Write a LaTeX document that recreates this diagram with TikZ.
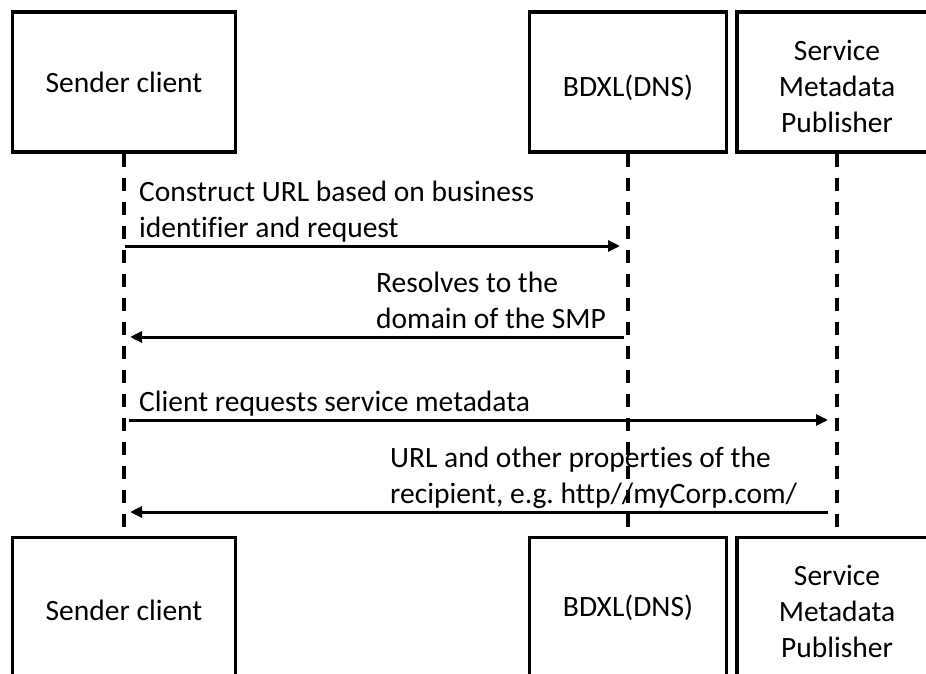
\documentclass[tikz,border=0pt]{standalone}
\usepackage{fontspec}
\setmainfont[Ligatures=NoCommon]{Carlito}
\usetikzlibrary{arrows.meta}
\newcommand\mylbl{\fontsize{29.5}{36}\selectfont\frenchspacing}
\begin{document}
\begin{tikzpicture}[x=1pt,y=-1pt,
  box/.style={draw=black, line width=3.4pt, minimum height=140pt, inner sep=0pt},
  boxtext/.style={align=center, font=\mylbl, inner sep=0pt},
  lifeline/.style={line width=3.4pt, dash pattern=on 13pt off 11pt},
  msg/.style={line width=3pt, -{Triangle[length=12pt,width=11pt]}},
  msglabel/.style={anchor=south west, inner sep=0pt, align=left, font=\mylbl}]
\useasboundingbox (0,0) rectangle (926,673);
\clip (0,0) rectangle (926,673);
\fill[white] (0,0) rectangle (926,673);
% top participants
\node[box, minimum width=223pt, label={[boxtext]center:Sender client}] (sc) at (124,82) {};
\node[box, minimum width=197pt, label={[boxtext, yshift=-6pt]center:BDXL(DNS)}] (bd) at (628,82) {};
\node[box, minimum width=200pt, label={[boxtext, yshift=-4pt]center:Service\\Metadata\\Publisher}] (smp) at (837,82) {};
% bottom participants
\node[box, minimum width=223pt, label={[boxtext, yshift=-3pt]center:Sender client}] (sc2) at (124,607.5) {};
\node[box, minimum width=197pt, label={[boxtext]center:BDXL(DNS)}] (bd2) at (628,607.5) {};
\node[box, minimum width=200pt, label={[boxtext, yshift=-4pt]center:Service\\Metadata\\Publisher}] (smp2) at (837,607.5) {};
% message labels
\node[msglabel] (l1) at (139,248.8) {Construct URL based on business\\identifier and request\strut};
\node[msglabel] (l2) at (376,339.8) {Resolves to the\\domain of the SMP\strut};
\node[msglabel] (l3) at (139,422.8) {Client requests service metadata\strut};
\node[msglabel] (l4) at (390,514.8) {URL and other properties of the\\recipient, e.g. http//myCorp.com/\strut};
% lifelines
\draw[lifeline] (sc.south) -- (sc2.north);
\draw[lifeline] (bd.south) -- (bd2.north);
\draw[lifeline] (smp.south) -- (smp2.north);
% points on lifelines
\coordinate (m1a) at (124,246);
\coordinate (m1b) at (628,246);
\coordinate (m2a) at (628,337);
\coordinate (m2b) at (124,337);
\coordinate (m3a) at (124,420);
\coordinate (m3b) at (837,420);
\coordinate (m4a) at (837,512);
\coordinate (m4b) at (124,512);
% messages
\draw[msg, shorten <=1pt, shorten >=8pt] (m1a) -- (m1b);
\draw[msg, shorten <=4pt, shorten >=6pt] (m2a) -- (m2b);
\draw[msg, shorten <=5pt, shorten >=9pt] (m3a) -- (m3b);
\draw[msg, shorten <=9pt, shorten >=6pt] (m4a) -- (m4b);
\end{tikzpicture}
\end{document}
